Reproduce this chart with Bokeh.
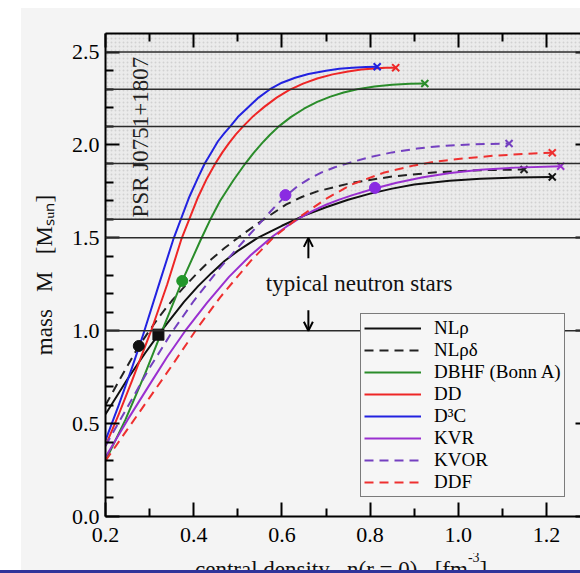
from math import pi
from bokeh.plotting import figure
from bokeh.models import (Range1d, LinearAxis, Span, BoxAnnotation, Label, Arrow, OpenHead,
                          Legend, LegendItem, FixedTicker, Spacer, Div, PrintfTickFormatter)
from bokeh.layouts import row, column
from bokeh.embed import file_html
from bokeh.resources import INLINE

FONT = "Liberation Serif"

# ---------------- data ----------------
x_major = [0.2, 0.4, 0.6, 0.8, 1.0, 1.2]
x_minor = [0.3, 0.5, 0.7, 0.9, 1.1]
y_major = [0.0, 0.5, 1.0, 1.5, 2.0, 2.5]
y_minor = [0.1, 0.2, 0.3, 0.4, 0.6, 0.7, 0.8, 0.9, 1.1, 1.2, 1.3, 1.4,
           1.6, 1.7, 1.8, 1.9, 2.1, 2.2, 2.3, 2.4]

psr_levels = [2.5, 2.3, 2.1, 1.9, 1.6]
typical_levels = [1.5, 1.0]

nlr_x = [0.20, 0.25, 0.29, 0.32, 0.35, 0.378, 0.41, 0.44, 0.47, 0.50, 0.545, 0.60, 0.65, 0.70,
         0.75, 0.80, 0.85, 0.90, 0.98, 1.05, 1.13, 1.213]
nlr_y = [0.55, 0.74, 0.88, 0.979, 1.07, 1.155, 1.24, 1.31, 1.375, 1.43, 1.50, 1.565, 1.62, 1.665,
         1.705, 1.738, 1.765, 1.787, 1.807, 1.818, 1.825, 1.828]

nlrd_x = [0.20, 0.24, 0.2755, 0.32, 0.35, 0.378, 0.41, 0.44, 0.47, 0.50, 0.55, 0.61, 0.645, 0.68,
          0.76, 0.85, 0.95, 1.05, 1.149]
nlrd_y = [0.60, 0.77, 0.918, 1.07, 1.16, 1.235, 1.315, 1.385, 1.445, 1.50, 1.585, 1.68, 1.72, 1.75,
          1.797, 1.830, 1.853, 1.864, 1.868]

dbhf_x = [0.20, 0.245, 0.29, 0.3285, 0.374, 0.4154, 0.44, 0.46, 0.49, 0.517, 0.535, 0.555, 0.573,
          0.593, 0.62, 0.65, 0.68, 0.71, 0.74, 0.771, 0.81, 0.85, 0.89, 0.924]
dbhf_y = [0.30, 0.52, 0.77, 1.00, 1.268, 1.487, 1.61, 1.70, 1.81, 1.90, 1.955, 2.01, 2.055,
          2.10, 2.15, 2.195, 2.232, 2.26, 2.282, 2.30, 2.315, 2.324, 2.329, 2.331]

dd_x = [0.20, 0.23, 0.26, 0.3035, 0.34, 0.3716, 0.41, 0.43, 0.449, 0.465, 0.48, 0.496, 0.512, 0.535,
        0.56, 0.588, 0.616, 0.648, 0.68, 0.715, 0.75, 0.78, 0.81, 0.835, 0.858]
dd_y = [0.38, 0.55, 0.73, 1.00, 1.25, 1.49, 1.72, 1.82, 1.90, 1.96, 2.01, 2.058, 2.10, 2.155,
        2.205, 2.255, 2.295, 2.33, 2.358, 2.38, 2.396, 2.406, 2.412, 2.415, 2.416]

d3c_x = [0.20, 0.23, 0.26, 0.2855, 0.32, 0.3535, 0.39, 0.408, 0.425, 0.44, 0.455, 0.47, 0.483, 0.50,
         0.52, 0.547, 0.573, 0.60, 0.63, 0.66, 0.70, 0.73, 0.76, 0.79, 0.816]
d3c_y = [0.41, 0.60, 0.80, 0.98, 1.24, 1.49, 1.72, 1.815, 1.90, 1.96, 2.02, 2.065, 2.10, 2.15,
         2.195, 2.255, 2.30, 2.335, 2.362, 2.382, 2.40, 2.41, 2.416, 2.42, 2.421]

kvr_x = [0.20, 0.25, 0.30, 0.34, 0.381, 0.43, 0.48, 0.529, 0.58, 0.61, 0.642, 0.67, 0.70, 0.73,
         0.76, 0.81, 0.86, 0.92, 0.982, 1.05, 1.13, 1.232]
kvr_y = [0.32, 0.52, 0.71, 0.86, 1.00, 1.15, 1.29, 1.406, 1.51, 1.56, 1.609, 1.645, 1.678, 1.706,
         1.73, 1.766, 1.797, 1.826, 1.849, 1.866, 1.878, 1.886]

kvor_x = [0.20, 0.25, 0.30, 0.35, 0.40, 0.46, 0.52, 0.56, 0.585, 0.608, 0.635, 0.66, 0.69, 0.72,
          0.756, 0.80, 0.85, 0.907, 0.96, 1.03, 1.115]
kvor_y = [0.38, 0.59, 0.80, 0.99, 1.16, 1.34, 1.50, 1.605, 1.67, 1.724, 1.777, 1.815, 1.852, 1.88,
          1.906, 1.935, 1.96, 1.981, 1.994, 2.003, 2.008]

ddf_x = [0.20, 0.25, 0.30, 0.35, 0.404, 0.46, 0.529, 0.58, 0.635, 0.70, 0.756, 0.83, 0.90, 0.945,
         1.01, 1.08, 1.15, 1.213]
ddf_y = [0.30, 0.47, 0.64, 0.81, 1.00, 1.18, 1.375, 1.50, 1.604, 1.71, 1.785, 1.85, 1.89, 1.909,
         1.927, 1.942, 1.952, 1.958]

# direct Urca onset markers
du_x = [0.2755, 0.32, 0.374, 0.608, 0.811]
du_y = [0.918, 0.979, 1.268, 1.73, 1.769]
du_color = ["#111111", "#111111", "#22962a", "#8a2be2", "#8a2be2"]
du_marker = ["circle", "square", "circle", "circle", "circle"]

series = [
    ("NLρ", nlr_x, nlr_y, "#111111", "solid"),
    ("NLρδ", nlrd_x, nlrd_y, "#222222", "9 6"),
    ("DBHF (Bonn A)", dbhf_x, dbhf_y, "#2a8c2a", "solid"),
    ("DD", dd_x, dd_y, "#ee2626", "solid"),
    ("D³C", d3c_x, d3c_y, "#2222e0", "solid"),
    ("KVR", kvr_x, kvr_y, "#9a30d0", "solid"),
    ("KVOR", kvor_x, kvor_y, "#7440c0", "9 6"),
    ("DDF", ddf_x, ddf_y, "#ee3030", "9 6"),
]

# ---------------- figure ----------------
BG = "#f4f4f4"
p = figure(width=559, height=545, x_range=Range1d(0.2, 1.277), y_range=Range1d(0.0, 2.6),
           output_backend="svg", toolbar_location=None,
           x_axis_location=None, y_axis_location=None,
           min_border_left=84, min_border_right=0, min_border_top=25, min_border_bottom=37,
           background_fill_color=BG, border_fill_color=BG, outline_line_color=None, margin=0)
p.grid.visible = False


def make_axis(ticks, minor, labels=True, tick_in=14, minor_in=8, line=True):
    ax = LinearAxis(ticker=FixedTicker(ticks=ticks, minor_ticks=minor),
                    formatter=PrintfTickFormatter(format="%.1f"))
    ax.axis_line_width = 2
    ax.axis_line_color = "black" if line else None
    ax.major_tick_line_width = 2
    ax.minor_tick_line_width = 2
    ax.major_tick_in = tick_in
    ax.major_tick_out = 0
    ax.minor_tick_in = minor_in
    ax.minor_tick_out = 0
    ax.minor_tick_line_color = "black" if minor_in > 0 else None
    ax.major_label_text_font = FONT
    if labels:
        ax.major_label_text_color = "black"
        ax.major_label_text_font_size = "22px"
    else:
        ax.major_label_text_color = None
        ax.major_label_text_font_size = "1px"
        ax.major_label_standoff = 0
    return ax


NB = "\u00a0"
bx = make_axis(x_major, x_minor)
bx.major_label_standoff = 11
p.add_layout(bx, "below")
ly = make_axis(y_major, y_minor)
ly.major_label_standoff = 6
ly.axis_label = "mass" + NB * 3 + "M" + NB * 3 + "[Mₛᵤₙ]"
ly.axis_label_text_font = FONT
ly.axis_label_text_font_size = "23px"
ly.axis_label_text_font_style = "normal"
ly.axis_label_text_color = "#111111"
ly.axis_label_standoff = 12
p.add_layout(ly, "left")
p.add_layout(make_axis(x_major, x_minor, labels=False), "above")
p.add_layout(make_axis(y_major, y_minor, labels=False, tick_in=5, minor_in=0, line=False), "right")

# shaded pulsar band
p.add_layout(BoxAnnotation(bottom=psr_levels[-1], fill_color="#ebebeb", fill_alpha=1.0,
                           hatch_pattern="dot", hatch_color="#b8b8b8", hatch_alpha=0.5,
                           hatch_scale=4, hatch_weight=1, line_color=None, level="underlay"))

for lv in psr_levels + typical_levels:
    p.add_layout(Span(location=lv, dimension="width", line_color="#2b2b2b", line_width=1.5))

# curves
legend_items = []
for name, xs, ys, col, dash in series:
    r = p.line(xs, ys, line_color=col, line_width=2, line_dash=dash, line_join="round")
    p.scatter([xs[-1]], [ys[-1]], marker="x", size=10, line_color=col, line_width=2)
    legend_items.append(LegendItem(label=name, renderers=[r]))

for mk in ["circle", "square"]:
    idx = [i for i, m in enumerate(du_marker) if m == mk]
    p.scatter([du_x[i] for i in idx], [du_y[i] for i in idx], marker=mk, size=11,
              fill_color=[du_color[i] for i in idx], line_color=[du_color[i] for i in idx])

legend = Legend(items=legend_items, location=(255, 19), orientation="vertical")
legend.label_text_font = FONT
legend.label_text_font_size = "19px"
legend.label_text_color = "black"
legend.glyph_width = 57
legend.glyph_height = 20
legend.label_height = 20
legend.label_standoff = 13
legend.padding = 3
legend.spacing = 0
legend.margin = 0
legend.border_line_color = "black"
legend.border_line_width = 1.5
legend.background_fill_color = "#f6f6f6"
legend.background_fill_alpha = 1.0
p.add_layout(legend, "center")

# annotations
p.add_layout(Label(x=0.279, y=1.61, text="PSR J0751+1807", angle=pi / 2, text_align="left",
                   text_baseline="middle", text_font=FONT, text_font_size="23px", text_color="#222222"))
p.add_layout(Label(x=0.775, y=1.255, text="typical neutron stars", text_align="center",
                   text_baseline="middle", text_font=FONT, text_font_size="23px", text_color="#111111"))
p.add_layout(Arrow(end=OpenHead(size=9, line_width=2), x_start=0.66, y_start=1.39, x_end=0.66,
                   y_end=1.5, line_width=2))
p.add_layout(Arrow(end=OpenHead(size=9, line_width=2), x_start=0.66, y_start=1.11, x_end=0.66,
                   y_end=1.0, line_width=2))

# x-axis label (partly hidden under the bottom rule, as in the original)
xlabel = Div(width=559, height=17, margin=0,
             text=('<div style="font-family:\'Liberation Serif\'; font-size:23px; line-height:23px; '
                   'white-space:pre; color:#111; padding-left:174px; margin:0; position:relative; top:5px;">'
                   'central density   n(r = 0)   [fm<span style="font-size:14px; position:relative; '
                   'top:-15px;">-3</span>]</div>'),
             styles={"background-color": BG, "overflow": "hidden"})

inner = column(p, xlabel, margin=0, styles={"background-color": BG})
layout = column(Spacer(width=580, height=8, margin=0),
                row(Spacer(width=21, height=562, margin=0), inner, margin=0),
                Div(width=580, height=3, margin=0, styles={"background-color": "#30349a"}),
                margin=0)

open("out.html", "w").write(file_html(layout, INLINE))
